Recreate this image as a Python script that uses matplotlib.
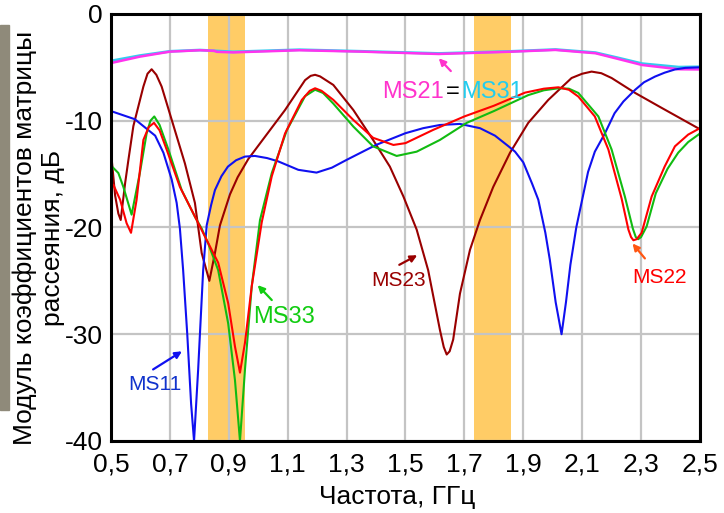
import matplotlib
matplotlib.use("Agg")
import matplotlib.pyplot as plt
from matplotlib.patches import Rectangle

plt.rcParams["font.family"] = ["Liberation Sans", "DejaVu Sans"]

# frequency (GHz) / level (dB)
ms11_f = [0.5, 0.581, 0.65, 0.678, 0.706, 0.723, 0.734, 0.745, 0.759, 0.772, 0.782,
          0.796, 0.802, 0.813, 0.825, 0.84, 0.853, 0.875, 0.897, 0.925, 0.955, 0.989,
          1.03, 1.067, 1.136, 1.198, 1.25, 1.30, 1.40, 1.50, 1.56, 1.617, 1.685,
          1.753, 1.804, 1.85, 1.872, 1.90, 1.93, 1.951, 1.975, 1.99, 2.01, 2.030,
          2.045, 2.06, 2.08, 2.10, 2.12, 2.143, 2.177, 2.21, 2.24, 2.28, 2.31, 2.347,
          2.38, 2.415, 2.45, 2.5]
ms11_db = [-9.1, -9.86, -11.4, -13.0, -15.5, -17.7, -20.1, -24.0, -30.0, -36.5, -40.0,
           -33.3, -30.0, -24.0, -19.8, -17.9, -16.5, -15.2, -14.3, -13.7, -13.36, -13.3,
           -13.5, -13.8, -14.6, -14.86, -14.4, -13.67, -12.27, -11.17, -10.7, -10.4, -10.3,
           -10.7, -11.4, -12.4, -12.9, -13.9, -15.9, -17.4, -20.5, -23.0, -27.0, -30.0,
           -27.0, -23.5, -20.0, -17.4, -14.8, -12.9, -11.2, -9.3, -8.2, -7.1, -6.4, -5.87,
           -5.5, -5.2, -5.05, -5.0]

ms22_f = [0.5, 0.508, 0.531, 0.553, 0.568, 0.587, 0.61, 0.628, 0.646, 0.665, 0.689,
          0.734, 0.78, 0.819, 0.864, 0.898, 0.921, 0.938, 0.955, 0.978, 1.012, 1.046,
          1.091, 1.148, 1.175, 1.193, 1.215, 1.255, 1.323, 1.39, 1.459, 1.50, 1.594,
          1.70, 1.80, 1.906, 1.97, 2.019, 2.055, 2.087, 2.143, 2.189, 2.234, 2.257,
          2.266, 2.274, 2.285, 2.302, 2.336, 2.38, 2.415, 2.46, 2.5]
ms22_db = [-16.2, -16.0, -17.4, -19.6, -20.5, -17.4, -11.8, -10.6, -10.2, -10.9, -12.7,
           -16.2, -18.7, -20.85, -23.3, -27.1, -31.15, -33.6, -30.8, -25.5, -19.5, -15.2,
           -11.2, -8.05, -7.2, -6.96, -7.2, -8.05, -9.93, -11.6, -12.27, -12.1, -10.86,
           -9.6, -8.6, -7.37, -7.0, -6.87, -7.1, -7.74, -9.6, -12.7, -17.3, -20.2,
           -20.9, -21.2, -21.1, -20.5, -17.1, -14.3, -12.4, -11.3, -10.7]

ms33_f = [0.5, 0.525, 0.542, 0.57, 0.598, 0.621, 0.634, 0.647, 0.665, 0.695, 0.74,
          0.785, 0.808, 0.83, 0.864, 0.898, 0.921, 0.938, 0.955, 0.978, 1.006, 1.046,
          1.097, 1.159, 1.193, 1.22, 1.255, 1.323, 1.39, 1.47, 1.538, 1.617, 1.708,
          1.80, 1.917, 1.97, 2.019, 2.055, 2.087, 2.155, 2.20, 2.245, 2.272, 2.282,
          2.29, 2.30, 2.319, 2.35, 2.39, 2.426, 2.46, 2.5]
ms33_db = [-14.2, -14.9, -16.2, -18.8, -14.9, -11.2, -10.0, -9.6, -10.4, -12.7, -16.5,
           -19.0, -20.1, -21.5, -24.0, -29.0, -34.3, -40.0, -33.3, -25.5, -19.3, -14.9,
           -10.9, -7.7, -7.1, -7.4, -8.4, -10.55, -12.4, -13.3, -12.9, -11.8, -10.2,
           -9.1, -7.6, -7.15, -6.96, -7.0, -7.4, -9.6, -12.7, -17.1, -20.1, -20.9,
           -21.1, -20.9, -19.9, -16.8, -14.5, -13.0, -12.0, -11.2]

ms23_f = [0.5, 0.514, 0.525, 0.533, 0.548, 0.559, 0.576, 0.61, 0.624, 0.638, 0.654,
          0.672, 0.706, 0.751, 0.785, 0.808, 0.834, 0.853, 0.87, 0.904, 0.93, 0.966,
          1.023, 1.091, 1.159, 1.178, 1.193, 1.21, 1.255, 1.323, 1.39, 1.447, 1.493,
          1.538, 1.577, 1.617, 1.63, 1.64, 1.65, 1.662, 1.685, 1.719, 1.753, 1.798,
          1.855, 1.917, 1.985, 2.064, 2.10, 2.132, 2.165, 2.20, 2.28, 2.37, 2.5]
ms23_db = [-12.9, -17.0, -18.7, -19.3, -15.85, -13.7, -10.5, -6.8, -5.6, -5.18, -5.7,
           -6.8, -9.9, -14.0, -17.7, -22.4, -25.0, -22.4, -19.8, -16.9, -15.3, -13.6,
           -11.5, -9.0, -6.2, -5.8, -5.7, -5.85, -6.65, -9.0, -11.8, -14.3, -17.1,
           -20.2, -24.0, -29.6, -31.2, -31.9, -31.6, -30.5, -26.2, -22.1, -19.3, -16.2,
           -13.0, -10.2, -8.05, -6.0, -5.6, -5.4, -5.55, -6.0, -7.4, -8.8, -10.8]

ms21_f = [0.5, 0.598, 0.7, 0.802, 0.85, 0.86, 0.915, 1.14, 1.352, 1.613, 1.862,
          2.009, 2.145, 2.22, 2.303, 2.428, 2.5]
ms21_db = [-4.6, -4.0, -3.53, -3.4, -3.45, -3.55, -3.6, -3.4, -3.53, -3.75, -3.53,
           -3.37, -3.68, -4.2, -4.78, -5.18, -5.2]
ms31_f = [0.5, 0.598, 0.7, 0.802, 0.915, 1.14, 1.352, 1.613, 1.862, 2.009, 2.145,
          2.22, 2.303, 2.428, 2.5]
ms31_db = [-4.4, -3.9, -3.5, -3.38, -3.55, -3.35, -3.5, -3.7, -3.5, -3.33, -3.62,
           -4.1, -4.65, -4.98, -4.95]

bands = [(0.829, 0.955), (1.733, 1.858)]

x_ticks = [0.5, 0.7, 0.9, 1.1, 1.3, 1.5, 1.7, 1.9, 2.1, 2.3, 2.5]
x_labels = ["0,5", "0,7", "0,9", "1,1", "1,3", "1,5", "1,7", "1,9", "2,1", "2,3", "2,5"]
y_ticks = [0, -10, -20, -30, -40]
y_labels = ["0", "-10", "-20", "-30", "-40"]

fig = plt.figure(figsize=(7.24, 5.13), dpi=100)
ax = fig.add_axes([0.1533, 0.1404, 0.8135, 0.8324])

for lo, hi in bands:
    ax.axvspan(lo, hi, color="#ffcc66", lw=0, zorder=0.2)

ax.grid(True, color="#c4c4c4", lw=1.6, zorder=0.5)
ax.set_axisbelow(True)

lw = 1.5
ax.plot(ms31_f, ms31_db, color="#33ccee", lw=2.0)
ax.plot(ms21_f, ms21_db, color="#ff33ee", lw=1.8)
ax.plot(ms23_f, ms23_db, color="#990000", lw=lw)
ax.plot(ms11_f, ms11_db, color="#1010f0", lw=lw)
ax.plot(ms33_f, ms33_db, color="#11bb11", lw=lw)
ax.plot(ms22_f, ms22_db, color="#ff0000", lw=lw)

ax.set_xlim(0.5, 2.5)
ax.set_ylim(-40, 0)
ax.set_xticks(x_ticks)
ax.set_xticklabels(x_labels)
ax.set_yticks(y_ticks)
ax.set_yticklabels(y_labels)
ax.tick_params(axis="both", length=0, labelsize=19)
ax.tick_params(axis="x", pad=8)
ax.tick_params(axis="y", pad=6)
for s in ax.spines.values():
    s.set_linewidth(2.2)
    s.set_color("black")


def label(text, xy, tail, head, color, size=15, arrow_color=None):
    ax.text(xy[0], xy[1], text, color=color, fontsize=size, ha="center", va="baseline")
    ax.annotate("", xy=head, xytext=tail,
                arrowprops=dict(arrowstyle="-|>", color=arrow_color or color, lw=1.6,
                                mutation_scale=10, shrinkA=0, shrinkB=0))


label("MS11", (0.649, -35.2), (0.643, -33.3), (0.741, -31.6), "#1133cc", arrow_color="#1010f0")
label("MS33", (1.087, -28.93), (1.046, -26.8), (0.998, -25.4), "#11cc11", size=17)
label("MS23", (1.477, -25.53), (1.479, -23.5), (1.54, -22.6), "#990000")
label("MS22", (2.364, -25.2), (2.313, -22.9), (2.271, -21.5), "#ff0000", arrow_color="#ff5511")

ax.text(1.63, -7.87, "MS21", color="#ff33cc", fontsize=17, ha="right", va="baseline")
ax.text(1.661, -7.87, "=", color="black", fontsize=17, ha="center", va="baseline")
ax.text(1.688, -7.87, "MS31", color="#22ccee", fontsize=17, ha="left", va="baseline")
ax.annotate("", xy=(1.613, -4.15), xytext=(1.654, -5.35),
            arrowprops=dict(arrowstyle="-|>", color="#ff33cc", lw=1.6,
                            mutation_scale=10, shrinkA=0, shrinkB=0))

fig.text(0.054, 0.536, "Модуль коэффициентов матрицы\nрассеяния, дБ", rotation=90,
         ha="center", va="center", multialignment="center", fontsize=19)
fig.text(0.548, 0.031, "Частота, ГГц", ha="center", va="center", fontsize=19)

fig.patches.append(Rectangle((0, 1 - 410 / 513), 9 / 724, 385 / 513,
                             transform=fig.transFigure, color="#8f8a7a", zorder=0))

fig.savefig("out.png", dpi=100)
